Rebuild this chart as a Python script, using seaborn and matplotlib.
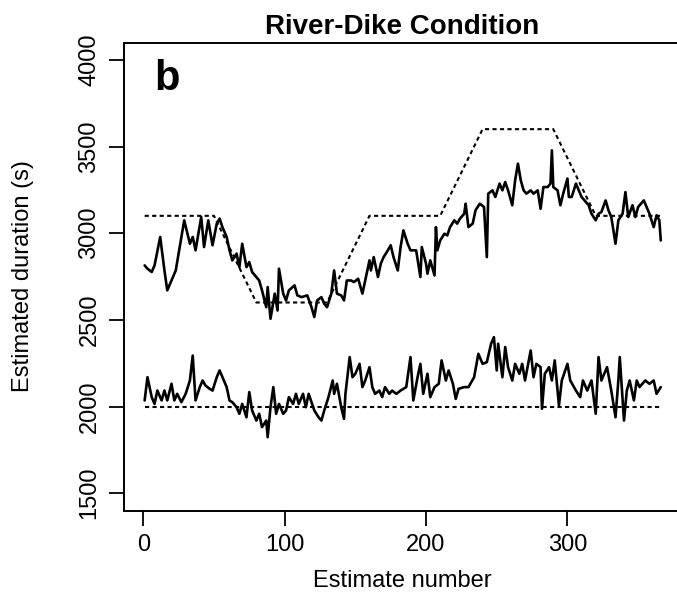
import matplotlib
matplotlib.use("Agg")
import matplotlib.pyplot as plt
import seaborn as sns
import pandas as pd

# ---- data ----
upper_x = [1, 3, 6, 8, 12, 15, 17, 21, 23, 26, 29, 33, 35, 37, 41, 43, 46, 49, 52, 54,
           56, 59, 61, 63, 66, 68, 70, 73, 75, 77, 80, 82, 84, 87, 88, 90, 93, 95, 96, 99,
           101, 103, 107, 109,
           112, 116, 119, 121, 123, 126, 128, 130, 133, 135, 137, 140, 142, 144, 147, 149,
           152, 155, 157, 160, 161, 163, 166, 168, 170, 173, 175, 177, 180, 182, 184, 187,
           189, 193, 196, 197, 200, 201, 203, 206, 207, 208, 210, 213, 215, 217, 220, 222,
           224, 227, 228, 230, 233, 235, 238,
           241, 243, 244, 247, 249, 252, 254, 256, 258, 261, 263, 265, 267, 269, 271, 274,
           276, 279, 281, 283, 286, 288, 289, 290, 293, 295, 297, 300, 301, 303, 306, 308,
           310, 313, 315, 317, 320, 322, 324, 327, 329, 331, 334, 336, 339, 341, 343, 346,
           348, 350, 354, 356, 358, 361, 363, 365, 366]
upper_y = [2814, 2795, 2776, 2814, 2978, 2785, 2670, 2747, 2785, 2930, 3074, 2939, 2978, 2901,
           3093, 2920, 3074, 2930, 3055, 3084, 3035, 2978, 2901, 2843, 2882, 2804, 2939, 2804,
           2833, 2776, 2747, 2727, 2670, 2573, 2689, 2506, 2651, 2554, 2795, 2651, 2612, 2670,
           2699, 2641,
           2631, 2641, 2573, 2516, 2612, 2631, 2593, 2573, 2651, 2785, 2651, 2641, 2612, 2727,
           2727, 2718, 2737, 2651, 2727, 2843, 2785, 2862, 2747, 2824, 2862, 2901, 2930, 2862,
           2785, 2920, 3016, 2939, 2901, 2901, 2747, 2920, 2824, 2766, 2843, 2756, 3035, 2901,
           2958, 2997, 2987, 3035, 3074, 3055, 3084, 3112, 3170, 3035, 3055, 3132, 3170,
           3151, 2862, 3228, 3247, 3209, 3286, 3247, 3295, 3247, 3161, 3305, 3401, 3305, 3247,
           3228, 3247, 3228, 3247, 3141, 3266, 3266, 3286, 3478, 3266, 3247, 3161, 3228, 3315,
           3209, 3209, 3286, 3247, 3209, 3180, 3161, 3112, 3074, 3112, 3122, 3189, 3132, 3093,
           2939, 3074, 3112, 3237, 3093, 3161, 3093, 3151, 3189, 3151, 3112, 3035, 3103, 3074,
           2958]

lower_x = [1, 3, 6, 8, 10, 13, 15, 17, 20, 22, 24, 27, 30, 33, 35, 37, 40, 42, 44, 47,
           49, 52, 54, 56, 59, 61, 63, 66, 68, 70, 73, 75, 77, 80, 82, 84, 87, 88, 90, 92,
           94, 96, 99, 101, 103, 106, 108, 110, 113,
           115, 117, 121, 124, 126, 128, 131, 134, 135, 137, 140, 142, 143, 146, 148, 150,
           153, 155, 157, 160, 162, 164, 167, 169, 171, 174, 176, 179, 182, 186, 189, 191,
           194, 196, 198, 201, 203, 206, 209, 211, 214, 216, 219, 221, 223, 227, 230, 234,
           237, 240, 243, 246,
           248, 250, 251, 254, 256, 258, 261, 263, 266, 268, 270, 274, 276, 278, 281, 282,
           284, 287, 289, 291, 294, 296, 300, 302, 306, 309, 311, 314, 317, 320, 322, 324,
           328, 331, 334, 336, 337, 340, 342, 344, 347, 349, 351, 355, 358, 361, 363, 366]
lower_y = [2035, 2169, 2054, 2015, 2092, 2035, 2092, 2035, 2131, 2035, 2073, 2025, 2073, 2150,
           2294, 2035, 2112, 2150, 2121, 2102, 2092, 2169, 2208, 2169, 2112, 2035, 2025, 1996,
           1958, 2015, 1938, 2083, 1977, 1919, 1958, 1881, 1919, 1823, 1996, 2112, 1958, 2015,
           1958, 1977, 2054, 2015, 2073, 2015, 2073,
           1996, 2073, 1977, 1938, 1919, 1977, 2054, 2150, 2073, 2131, 1996, 1929, 2073, 2285,
           2169, 2189, 2246, 2112, 2150, 2227, 2112, 2073, 2092, 2054, 2112, 2073, 2092, 2073,
           2092, 2112, 2285, 2035, 2169, 2246, 2073, 2189, 2054, 2112, 2131, 2266, 2150, 2208,
           2131, 2044, 2102, 2112, 2112, 2169, 2304, 2246, 2256, 2362,
           2400, 2208, 2362, 2169, 2343, 2227, 2150, 2246, 2189, 2246, 2150, 2323, 2169, 2246,
           2227, 1987, 2189, 2227, 2150, 2266, 2006, 2150, 2246, 2150, 2092, 2054, 2150, 2092,
           2150, 1958, 2285, 2150, 2227, 2092, 1938, 2150, 2285, 1919, 2092, 2150, 2035, 2150,
           2112, 2150, 2131, 2150, 2073, 2112]

true_upper_x = [1, 50, 80, 130, 160, 210, 240, 290, 320, 366]
true_upper_y = [3100, 3100, 2600, 2600, 3100, 3100, 3600, 3600, 3100, 3100]
true_lower_x = [1, 366]
true_lower_y = [2000, 2000]

x_ticks = [0, 100, 200, 300]
y_ticks = [1500, 2000, 2500, 3000, 3500, 4000]

# ---- figure ----
sns.set_style("ticks")
plt.rcParams["font.family"] = ["Liberation Sans", "DejaVu Sans"]
plt.rcParams["text.color"] = "black"
plt.rcParams["axes.labelcolor"] = "black"
plt.rcParams["xtick.color"] = "black"
plt.rcParams["ytick.color"] = "black"

W, H = 677, 596
fig = plt.figure(figsize=(W / 100, H / 100), dpi=100)
ax = fig.add_axes([124 / W, 1 - 510.5 / H, 556 / W, 468 / H])

lw_main = 1.9
dash = (0, (2.0, 1.6))
sns.lineplot(x=true_upper_x, y=true_upper_y, ax=ax, color="black", lw=1.5,
             estimator=None, sort=False, linestyle=dash)
sns.lineplot(x=true_lower_x, y=true_lower_y, ax=ax, color="black", lw=1.5,
             estimator=None, sort=False, linestyle=dash)
sns.lineplot(x=upper_x, y=upper_y, ax=ax, color="black", lw=lw_main,
             estimator=None, sort=False)
sns.lineplot(x=lower_x, y=lower_y, ax=ax, color="black", lw=lw_main,
             estimator=None, sort=False)

ax.set_xlim(-13.6, 379.6)
ax.set_ylim(1400, 4100)
ax.set_xticks(x_ticks)
ax.set_yticks(y_ticks)
ax.set_xticklabels([str(t) for t in x_ticks], fontsize=17)
ax.set_yticklabels([str(t) for t in y_ticks], fontsize=17, rotation=90, va="center")
ax.tick_params(axis="both", length=11, width=1.3, color="black", pad=6)
for s in ax.spines.values():
    s.set_visible(True)
    s.set_linewidth(1.4)
    s.set_color("black")

ax.set_xlabel("Estimate number", fontsize=17, labelpad=10)
ax.set_ylabel("Estimated duration (s)", fontsize=17, labelpad=32)
ax.set_title("River-Dike Condition", fontsize=20, fontweight="bold", pad=6)
ax.text(0.055, 0.965, "b", transform=ax.transAxes, fontsize=30, fontweight="bold",
        ha="left", va="top")

fig.savefig("out.png", dpi=100)
